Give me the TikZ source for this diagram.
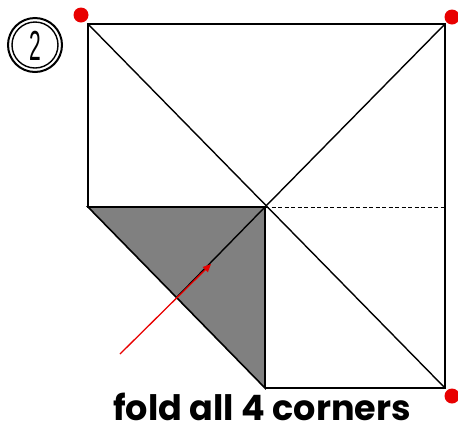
\documentclass[tikz,border=0pt]{standalone}
\usepackage{fontspec}
\setmainfont{Poppins}
\newfontfamily\numfont{Liberation Sans}
\usetikzlibrary{arrows.meta}
\definecolor{foldgray}{RGB}{128,128,128}
\definecolor{dotred}{RGB}{232,0,0}
\begin{document}
\begin{tikzpicture}[x=1pt,y=-1pt,
  edge/.style={line width=1.6pt,black},
  crease/.style={line width=1.4pt,black},
  dot/.style={circle,fill=dotred,inner sep=0pt,minimum size=15pt},
  label/.style={font=\bfseries\fontsize{35}{40}\selectfont,anchor=base}]
\useasboundingbox (0,0) rectangle (458,432);
\fill[white] (0,0) rectangle (458,432);
\coordinate (TL) at (88,24);
\coordinate (TR) at (445,24);
\coordinate (BR) at (445,388);
\coordinate (BM) at (265,388);
\coordinate (ML) at (88,207);
\coordinate (C) at (265,207);
\coordinate (R) at (445,207);
\coordinate (H) at (177,297);
% square outline
\draw[edge] (C) -- (ML) -- (TL) -- (TR) -- (BR) -- (BM);
% diagonals
\draw[crease] (TL) -- (BR);
\draw[crease] (TR) -- (C);
\draw[line width=1pt,dashed,dash pattern=on 4pt off 2.5pt] (C) -- (R);
% folded flap
\filldraw[fill=foldgray,draw=black,line width=1.6pt] (ML) -- (C) -- (BM) -- cycle;
\draw[crease] (C) -- (H);
% arrow
\coordinate (A0) at (120,354);
\coordinate (A1) at (211,264);
\draw[dotred,line width=1.3pt,-{Triangle[length=8pt,width=7pt]}] (A0) -- (A1);
% dots
\node[dot] (d1) at (81,15) {};
\node[dot] (d2) at (452,17) {};
\node[dot] (d3) at (452,396) {};
% step number
\node[circle,draw,line width=2pt,minimum size=54pt,inner sep=0pt] (n) at (35,45) {};
\node[circle,draw,line width=1.4pt,minimum size=46pt,inner sep=0pt] (n2) at (35,45) {};
\node[xscale=0.5,font=\numfont\fontsize{42}{44}\selectfont] (num) at (35,46) {2};
% caption
\node[label] (cap) at (262,420) {fold all 4 corners};
\end{tikzpicture}
\end{document}
